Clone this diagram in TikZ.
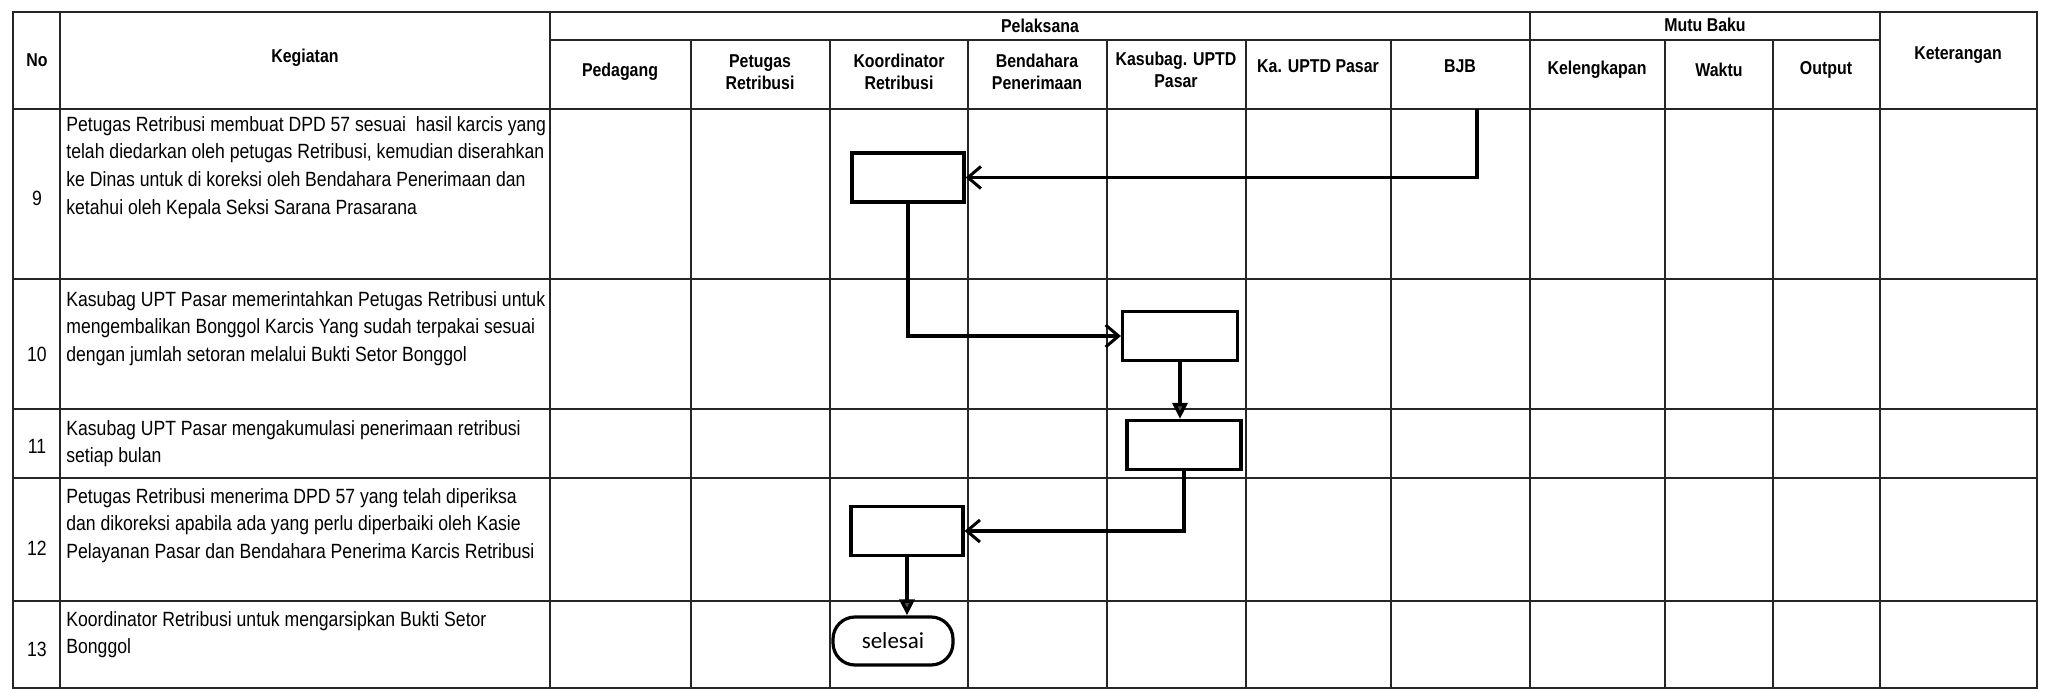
\documentclass[tikz,border=0pt]{standalone}
\usepackage{fontspec}
\setmainfont{Liberation Sans}[FakeStretch=0.855]
\newfontfamily\selfont{Carlito}
\usetikzlibrary{arrows.meta}
\tikzset{
  grid/.style={line width=0.9pt, black!85},
  outer/.style={line width=1.2pt, black!85},
  box/.style={draw, line width=1.6pt, minimum width=56pt, minimum height=24.5pt, inner sep=0pt},
  term/.style={draw, line width=1.6pt, rounded corners=11pt, minimum width=60pt, minimum height=24pt, inner sep=0pt, font=\selfont\fontsize{11.5}{13}\selectfont},
  flow/.style={line width=1.7pt},
  openarr/.style={-{Straight Barb[length=6.5pt,width=11pt,line width=1.5pt]}},
  triarr/.style={-{Triangle[length=8pt,width=7.5pt,fill=black!70]}},
  hdr/.style={font=\bfseries\fontsize{9.3}{10.8}\selectfont, align=center, inner sep=0pt},
  body/.style={font=\fontsize{10.3}{13.8}\selectfont, align=left, anchor=north west, inner sep=0pt},
  num/.style={font=\fontsize{10.3}{12}\selectfont, inner sep=0pt}
}
\begin{document}
\begin{tikzpicture}[x=0.5pt,y=-0.5pt]
\useasboundingbox[fill=white] (0,0) rectangle (2049,689);
% grid
\draw[outer] (13,12) rectangle (2037,688);
\draw[grid] (550,40) -- (1880,40);
\draw[grid] (13,109) -- (2037,109);
\foreach \y in {279,409,478,601} \draw[grid] (13,\y) -- (2037,\y);
\foreach \x in {60,550,1530,1880} \draw[grid] (\x,12) -- (\x,688);
\foreach \x in {691,830,968,1107,1246,1391,1665,1773} \draw[grid] (\x,40) -- (\x,688);
% headers
\node[hdr] (hno) at (37,60) {No};
\node[hdr] (hkeg) at (305,58) {Kegiatan};
\node[hdr] (hpel) at (1040,26) {Pelaksana};
\node[hdr] (hmutu) at (1705,25) {Mutu Baku};
\node[hdr] (hket) at (1958,55) {Keterangan};
\node[hdr] (hped) at (620,72) {Pedagang};
\node[hdr] (hpet) at (760,72) {Petugas\\Retribusi};
\node[hdr] (hkoo) at (899,72) {Koordinator\\Retribusi};
\node[hdr] (hben) at (1037,72) {Bendahara\\Penerimaan};
\node[hdr] (hkas) at (1176,70) {Kasubag. UPTD\\Pasar};
\node[hdr] (hka) at (1318,66) {Ka. UPTD Pasar};
\node[hdr] (hbjb) at (1460,66) {BJB};
\node[hdr] (hkel) at (1597,70) {Kelengkapan};
\node[hdr] (hwak) at (1719,70) {Waktu};
\node[hdr] (hout) at (1826,70) {Output};
% numbers
\node[num] (n9) at (37,198) {9};
\node[num] (n10) at (37,354) {10};
\node[num] (n11) at (37,446) {11};
\node[num] (n12) at (37,548) {12};
\node[num] (n13) at (37,649) {13};
% activity texts
\node[body] (t9) at (66,116) {Petugas Retribusi membuat DPD 57 sesuai\ \ hasil karcis yang\\telah diedarkan oleh petugas Retribusi, kemudian diserahkan\\ke Dinas untuk di koreksi oleh Bendahara Penerimaan dan\\ketahui oleh Kepala Seksi Sarana Prasarana};
\node[body] (t10) at (66,291) {Kasubag UPT Pasar memerintahkan Petugas Retribusi untuk\\mengembalikan Bonggol Karcis Yang sudah terpakai sesuai\\dengan jumlah setoran melalui Bukti Setor Bonggol};
\node[body] (t11) at (66,420) {Kasubag UPT Pasar mengakumulasi penerimaan retribusi\\setiap bulan};
\node[body] (t12) at (66,488) {Petugas Retribusi menerima DPD 57 yang telah diperiksa\\dan dikoreksi apabila ada yang perlu diperbaiki oleh Kasie\\Pelayanan Pasar dan Bendahara Penerima Karcis Retribusi};
\node[body] (t13) at (66,611) {Koordinator Retribusi untuk mengarsipkan Bukti Setor\\Bonggol};
% flow boxes
\node[box] (b9) at (908,177.5) {};
\node[box, minimum width=57.5pt] (b10) at (1180,336) {};
\node[box, minimum width=57pt] (b11) at (1184,445) {};
\node[box] (b12) at (907,531) {};
\node[term] (sel) at (893,641) {selesai};
\coordinate (bjb) at (1477,109);
% connectors
\draw[flow, openarr] (bjb) |- (b9.east);
\draw[flow, openarr] (b9.south) |- (b10.west);
\draw[flow, triarr] (b10.south) -- (b10.south |- b11.north);
\draw[flow, openarr] (b11.south) |- (b12.east);
\draw[flow, triarr] (b12.south) -- (b12.south |- sel.north);
\end{tikzpicture}
\end{document}
